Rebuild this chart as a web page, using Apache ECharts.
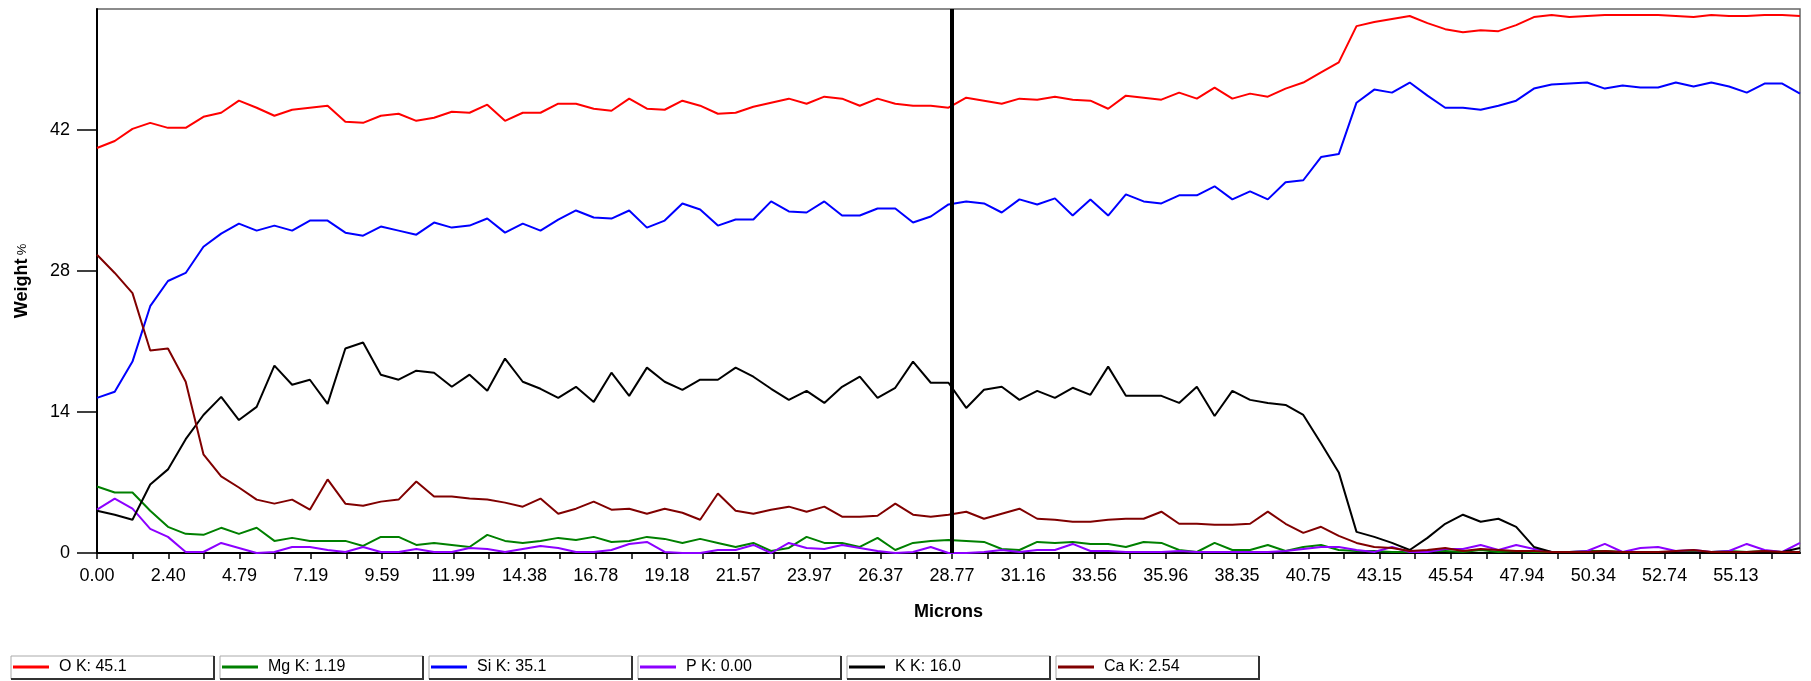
<!DOCTYPE html>
<html>
<head>
<meta charset="utf-8">
<script src="https://cdn.jsdelivr.net/npm/echarts@6/dist/echarts.min.js"></script>
<style>
  html, body { margin: 0; padding: 0; background: #fff; }
  #chart { width: 1811px; height: 681px; }
</style>
</head>
<body>
<div id="chart"></div>
<script>
// 数据：沿线扫描的各元素重量百分比（每隔一个采样间距读一次）
var micronMax = 57.3;
var micronStep = micronMax / 96;

var seriesNames = ['O K', 'Mg K', 'Si K', 'P K', 'K K', 'Ca K'];
var seriesColors = ['#ff0000', '#008000', '#0000ff', '#8c00ff', '#000000', '#800000'];
var legendValues = ['45.1', '1.19', '35.1', '0.00', '16.0', '2.54'];

var oK = [40.2, 40.9, 42.1, 42.7, 42.2, 42.2, 43.3, 43.7, 44.9, 44.2, 43.4, 44.0, 44.2, 44.4, 42.8, 42.7, 43.4, 43.6, 42.9, 43.2,
    43.8, 43.7, 44.5, 42.9, 43.7, 43.7, 44.6, 44.6, 44.1, 43.9, 45.1, 44.1, 44.0, 44.9,
    44.4, 43.6, 43.7, 44.3, 44.7, 45.1, 44.6, 45.3, 45.1, 44.4, 45.1, 44.6, 44.4, 44.4, 44.2, 45.2, 44.9, 44.6, 45.1, 45.0,
    45.3, 45.0, 44.9, 44.1, 45.4, 45.2, 45.0, 45.7, 45.1, 46.2, 45.1, 45.6, 45.3, 46.1, 46.7, 47.7, 48.7,
    52.3, 52.7, 53.0, 53.3, 52.6, 52.0, 51.7, 51.9, 51.8, 52.4, 53.2, 53.4, 53.2, 53.3, 53.4, 53.4, 53.4, 53.4, 53.3, 53.2,
    53.4, 53.3, 53.3, 53.4, 53.4, 53.3];
var mgK = [6.6, 6.0, 6.0, 4.2, 2.6, 1.9, 1.8, 2.5, 1.9, 2.5, 1.2, 1.5, 1.2, 1.2, 1.2, 0.7, 1.6, 1.6, 0.8, 1.0,
    0.8, 0.6, 1.8, 1.2, 1.0, 1.2, 1.5, 1.3, 1.6, 1.1, 1.2, 1.6, 1.4, 1.0,
    1.4, 1.0, 0.6, 1.0, 0.2, 0.5, 1.6, 1.0, 1.0, 0.6, 1.5, 0.3, 1.0, 1.2, 1.3, 1.2, 1.1, 0.4, 0.3, 1.1,
    1.0, 1.1, 0.9, 0.9, 0.6, 1.1, 1.0, 0.3, 0.1, 1.0, 0.3, 0.3, 0.8, 0.2, 0.6, 0.8, 0.3,
    0.2, 0.2, 0.1, 0.1, 0.2, 0.2, 0.1, 0.3, 0.1, 0.2, 0.1, 0.1, 0.1, 0.2, 0.2, 0.1, 0.1, 0.1, 0.1, 0.1,
    0.1, 0.2, 0.1, 0.2, 0.1, 0.1];
var siK = [15.4, 16.0, 19.0, 24.5, 27.0, 27.8, 30.4, 31.7, 32.7, 32.0, 32.5, 32.0, 33.0, 33.0, 31.8, 31.5, 32.4, 32.0, 31.6, 32.8,
    32.3, 32.5, 33.2, 31.8, 32.7, 32.0, 33.1, 34.0, 33.3, 33.2, 34.0, 32.3, 33.0, 34.7,
    34.1, 32.5, 33.1, 33.1, 34.9, 33.9, 33.8, 34.9, 33.5, 33.5, 34.2, 34.2, 32.8, 33.4, 34.6, 34.9, 34.7, 33.8, 35.1, 34.6,
    35.2, 33.5, 35.1, 33.5, 35.6, 34.9, 34.7, 35.5, 35.5, 36.4, 35.1, 35.9, 35.1, 36.8, 37.0, 39.3, 39.6,
    44.7, 46.0, 45.7, 46.7, 45.4, 44.2, 44.2, 44.0, 44.4, 44.9, 46.1, 46.5, 46.6, 46.7, 46.1, 46.4, 46.2, 46.2, 46.7, 46.3,
    46.7, 46.3, 45.7, 46.6, 46.6, 45.6];
var pK = [4.3, 5.4, 4.4, 2.4, 1.6, 0.1, 0.1, 1.0, 0.5, 0.0, 0.1, 0.6, 0.6, 0.3, 0.1, 0.6, 0.1, 0.1, 0.4, 0.1,
    0.1, 0.5, 0.4, 0.1, 0.4, 0.7, 0.5, 0.1, 0.1, 0.3, 0.9, 1.1, 0.1, 0.0,
    0.0, 0.3, 0.3, 0.8, 0.0, 1.0, 0.5, 0.4, 0.8, 0.5, 0.2, 0.0, 0.1, 0.6, 0.0, 0.0, 0.1, 0.3, 0.1, 0.3,
    0.3, 0.9, 0.2, 0.2, 0.1, 0.1, 0.1, 0.2, 0.1, 0.1, 0.1, 0.1, 0.1, 0.2, 0.4, 0.6, 0.6,
    0.3, 0.1, 0.6, 0.1, 0.1, 0.4, 0.4, 0.8, 0.3, 0.8, 0.4, 0.1, 0.1, 0.2, 0.9, 0.1, 0.5, 0.6, 0.2, 0.3,
    0.1, 0.2, 0.9, 0.3, 0.1, 1.0];
var kK = [4.2, 3.8, 3.3, 6.8, 8.3, 11.3, 13.7, 15.5, 13.2, 14.5, 18.6, 16.7, 17.2, 14.8, 20.3, 20.9, 17.7, 17.2, 18.1, 17.9,
    16.5, 17.7, 16.1, 19.3, 17.0, 16.3, 15.4, 16.5, 15.0, 17.9, 15.6, 18.4, 17.0, 16.2,
    17.2, 17.2, 18.4, 17.5, 16.3, 15.2, 16.1, 14.9, 16.5, 17.5, 15.4, 16.4, 19.0, 16.9, 16.9, 14.4, 16.2, 16.5, 15.2, 16.1,
    15.4, 16.4, 15.7, 18.5, 15.6, 15.6, 15.6, 14.9, 16.5, 13.6, 16.1, 15.2, 14.9, 14.7, 13.7, 10.9, 8.0,
    2.1, 1.6, 1.0, 0.3, 1.5, 2.9, 3.8, 3.1, 3.4, 2.6, 0.6, 0.1, 0.0, 0.0, 0.0, 0.0, 0.0, 0.0, 0.0, 0.0,
    0.0, 0.0, 0.0, 0.0, 0.1, 0.5];
var caK = [29.6, 27.8, 25.8, 20.1, 20.3, 17.0, 9.8, 7.6, 6.5, 5.3, 4.9, 5.3, 4.3, 7.3, 4.9, 4.7, 5.1, 5.3, 7.1, 5.6,
    5.6, 5.4, 5.3, 5.0, 4.6, 5.4, 3.9, 4.4, 5.1, 4.3, 4.4, 3.9, 4.4, 4.0,
    3.3, 5.9, 4.2, 3.9, 4.3, 4.6, 4.1, 4.6, 3.6, 3.6, 3.7, 4.9, 3.8, 3.6, 3.8, 4.1, 3.4, 3.9, 4.4, 3.4,
    3.3, 3.1, 3.1, 3.3, 3.4, 3.4, 4.1, 2.9, 2.9, 2.8, 2.8, 2.9, 4.1, 2.9, 2.0, 2.6, 1.7,
    1.0, 0.6, 0.5, 0.2, 0.3, 0.5, 0.2, 0.4, 0.3, 0.2, 0.2, 0.1, 0.1, 0.1, 0.2, 0.1, 0.1, 0.1, 0.2, 0.3,
    0.1, 0.1, 0.1, 0.2, 0.1, 0.1];

// 坐标轴刻度
var xTickLabels = ['0.00', '2.40', '4.79', '7.19', '9.59', '11.99', '14.38', '16.78', '19.18', '21.57', '23.97', '26.37',
    '28.77', '31.16', '33.56', '35.96', '38.35', '40.75', '43.15', '45.54', '47.94', '50.34', '52.74', '55.13'];
var xLabelStep = 2.3975;
var yTicks = [0, 14, 28, 42];
var cursorAt = 28.77;

var allValues = [oK, mgK, siK, pK, kK, caK];

var xLabelValues = xTickLabels.map(function (t, i) { return i * xLabelStep; });
var xMinorValues = [];
for (var i = 0; i * xLabelStep / 2 < micronMax; i++) {
    xMinorValues.push(i * xLabelStep / 2);
}

function toPairs(vals) {
    return vals.map(function (v, i) { return [i * micronStep, v]; });
}

var font = 'Liberation Sans, Arial, sans-serif';

var series = seriesNames.map(function (name, k) {
    var s = {
        name: name,
        type: 'line',
        data: toPairs(allValues[k]),
        symbol: 'none',
        lineStyle: { color: seriesColors[k], width: 2 },
        itemStyle: { color: seriesColors[k] },
        animation: false
    };
    if (k === 0) {
        s.markLine = {
            symbol: 'none',
            silent: true,
            label: { show: false },
            lineStyle: { color: '#000', width: 4, type: 'solid' },
            data: [{ xAxis: cursorAt }]
        };
    }
    return s;
});

// 图例外框
var boxes = [];
for (var b = 0; b < seriesNames.length; b++) {
    var bx = 11 + b * 209;
    boxes.push({
        type: 'rect', z: 0,
        shape: { x: bx, y: 656, width: 203, height: 23 },
        style: { fill: '#fff', stroke: '#aaa', lineWidth: 1 }
    });
    boxes.push({
        type: 'polyline', z: 0,
        shape: { points: [[bx, 679], [bx + 203, 679], [bx + 203, 656]] },
        style: { stroke: '#333', lineWidth: 2, fill: null }
    });
}

var chart = echarts.init(document.getElementById('chart'), null, { renderer: 'canvas' });

chart.setOption({
    backgroundColor: '#fff',
    animation: false,
    grid: {
        left: 97, right: 11, top: 9, bottom: 128,
        show: true, borderColor: '#666', borderWidth: 1.5, backgroundColor: '#fff'
    },
    xAxis: {
        type: 'value',
        min: 0, max: micronMax,
        name: 'Microns',
        nameLocation: 'middle',
        nameGap: 50,
        nameTextStyle: { fontFamily: font, fontSize: 18, fontWeight: 'bold', color: '#000' },
        axisLine: { lineStyle: { color: '#000', width: 2 } },
        axisTick: { customValues: xMinorValues, length: 6, lineStyle: { color: '#000', width: 1.5 } },
        axisLabel: {
            customValues: xLabelValues,
            margin: 14,
            fontFamily: font, fontSize: 18, color: '#000',
            formatter: function (v) { return xTickLabels[Math.round(v / xLabelStep)] || ''; }
        },
        splitLine: { show: false }
    },
    yAxis: {
        type: 'value',
        min: 0, max: 54,
        name: '{b|Weight} {n|%}',
        nameLocation: 'middle',
        nameGap: 66,
        nameTextStyle: {
            color: '#000',
            rich: {
                b: { fontFamily: font, fontSize: 18, fontWeight: 'bold', color: '#000' },
                n: { fontFamily: font, fontSize: 13, color: '#000' }
            }
        },
        axisLine: { show: true, lineStyle: { color: '#000', width: 2 } },
        axisTick: { show: true, customValues: yTicks, length: 20, lineStyle: { color: '#000', width: 1.5 } },
        axisLabel: { customValues: yTicks, margin: 27, fontFamily: font, fontSize: 18, color: '#000' },
        splitLine: { show: false }
    },
    legend: {
        data: seriesNames,
        left: 13, top: 659,
        padding: 0,
        itemWidth: 36, itemHeight: 3, itemGap: 5,
        icon: 'rect',
        selectedMode: false,
        formatter: function (name) {
            return '{t|' + name + ': ' + legendValues[seriesNames.indexOf(name)] + '}';
        },
        textStyle: {
            rich: {
                t: { width: 158, padding: [0, 0, 0, 5], lineHeight: 18, fontFamily: font, fontSize: 16, color: '#000' }
            }
        }
    },
    graphic: boxes,
    series: series
});
</script>
</body>
</html>
